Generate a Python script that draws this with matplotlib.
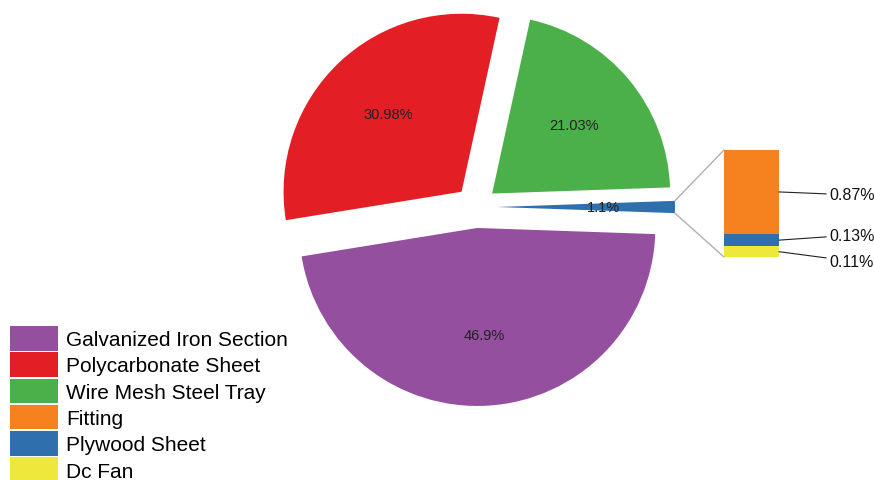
import numpy as np
import matplotlib.pyplot as plt
from matplotlib.patches import Patch, ConnectionPatch

plt.rcParams['font.family'] = ['Liberation Sans', 'DejaVu Sans']

# main pie: "other" slice first so it sits centred on the right side
pie_labels = ['Others', 'Wire Mesh Steel Tray', 'Polycarbonate Sheet', 'Galvanized Iron Section']
pie_values = [1.1, 21.03, 30.98, 46.9]
pie_colors = ['#2f6fae', '#4cb04a', '#e31e24', '#954f9f']

# breakdown of the small slice, bottom to top
bar_labels = ['Dc Fan', 'Plywood Sheet', 'Fitting']
bar_values = [0.11, 0.13, 0.87]
bar_colors = ['#eee83a', '#2f6fae', '#f5821f']

legend_labels = ['Galvanized Iron Section', 'Polycarbonate Sheet', 'Wire Mesh Steel Tray',
                 'Fitting', 'Plywood Sheet', 'Dc Fan']
legend_colors = ['#954f9f', '#e31e24', '#4cb04a', '#f5821f', '#2f6fae', '#eee83a']

W, H = 874, 481
fig = plt.figure(figsize=(W / 100, H / 100), dpi=100)
ax = fig.add_axes([0, 0, 1, 1])

R = 178
start = -pie_values[0] / sum(pie_values) * 360 / 2
wedges, texts = ax.pie(pie_values, colors=pie_colors, startangle=start,
                       explode=[21] * 4, radius=R, center=(476, H - 208),
                       labels=[f'{v:g}%' for v in pie_values], labeldistance=0.6,
                       textprops=dict(fontsize=10.5, color='#222222'))
for t in texts:
    t.set_ha('center')
    t.set_va('center')
ax.set_xlim(0, W)
ax.set_ylim(0, H)
ax.set_aspect('equal')
ax.axis('off')

# stacked bar for the small slice
bx0, bx1, by0, by1 = 724, 779, 151, 258
ax2 = fig.add_axes([bx0 / W, (H - by1) / H, (bx1 - bx0) / W, (by1 - by0) / H])
bottom = 0
mids = []
for v, c in zip(bar_values, bar_colors):
    ax2.bar(0, v, width=1, bottom=bottom, color=c)
    mids.append(bottom + v / 2)
    bottom += v
ax2.set_xlim(-0.5, 0.5)
ax2.set_ylim(0, bottom)
ax2.axis('off')

offsets = [(50, -9.5), (50, 5), (50, -3)]
for v, m, off in zip(bar_values, mids, offsets):
    ax2.annotate(f'{v:g}%', xy=(0.5, m), xytext=off, textcoords='offset pixels',
                 ha='left', va='center', fontsize=11.5, color='#111111',
                 arrowprops=dict(arrowstyle='-', color='#222222', lw=0.8,
                                 shrinkA=0, shrinkB=0))

# grey lines from the small slice to the bar
w = wedges[0]
cx, cy = w.center
for th, yb in [(w.theta2, bottom), (w.theta1, 0)]:
    xa = cx + w.r * np.cos(np.radians(th))
    ya = cy + w.r * np.sin(np.radians(th))
    con = ConnectionPatch(xyA=(xa, ya), coordsA=ax.transData,
                          xyB=(-0.5, yb), coordsB=ax2.transData,
                          color='#b0b0b0', lw=1)
    fig.add_artist(con)

handles = [Patch(facecolor=c, label=l) for l, c in zip(legend_labels, legend_colors)]
fig.legend(handles=handles, loc='upper left', bbox_to_anchor=(10 / W, (H - 327) / H),
           frameon=False, fontsize=15, handlelength=2.3, handleheight=1.44,
           handletextpad=0.38, labelspacing=0.08, borderpad=0, borderaxespad=0)

fig.savefig('out.png', dpi=100)
